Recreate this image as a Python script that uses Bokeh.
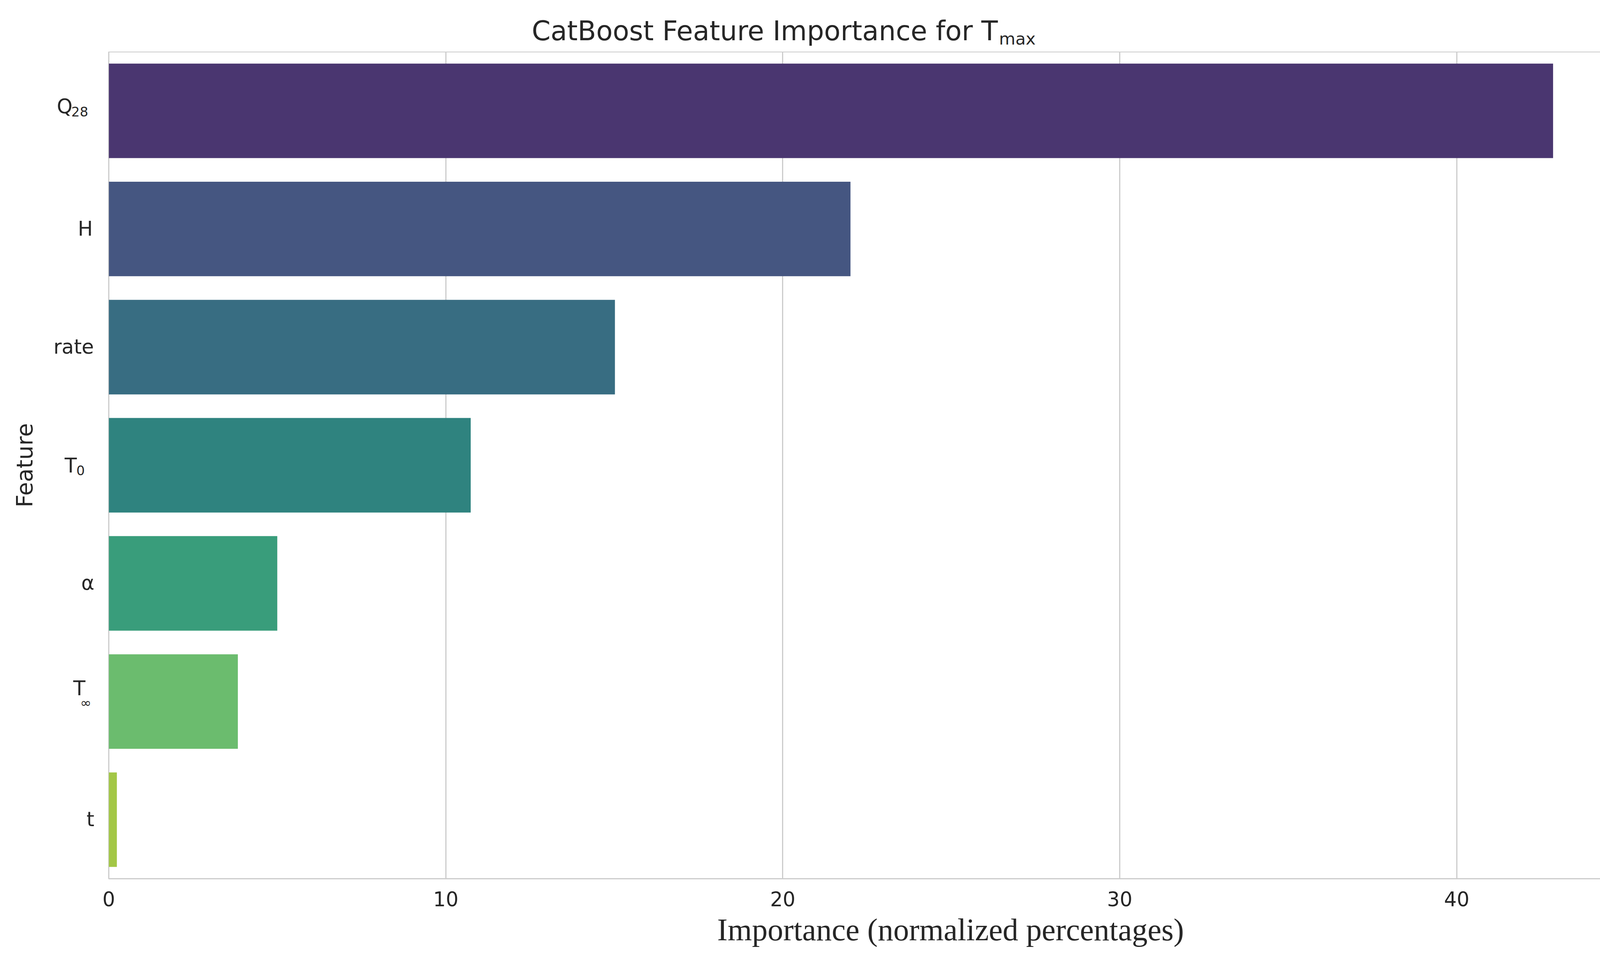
import math
from bokeh.plotting import figure
from bokeh.layouts import column, row
from bokeh.models import FactorRange, Range1d, FixedTicker, ColumnDataSource
from bokeh.core.properties import value
from bokeh.embed import file_html
from bokeh.resources import INLINE

# ---------------- data ----------------
features = ["Q28", "H", "rate", "T0", "α", "T∞", "t"]          # top to bottom
label_main = ["Q", "H", "rate", "T", "α", "T", "t"]
label_sub = ["28", "", "", "0", "", "∞", ""]
importance = [42.86, 22.01, 15.02, 10.74, 5.00, 3.83, 0.24]
bar_colors = ["#4a3670", "#455681", "#386d82", "#2f837f", "#399d7b", "#6bbc6e", "#a3c746"]
x_ticks = [0, 10, 20, 30, 40]

title_main = "CatBoost Feature Importance for T"
title_sub = "max"
x_label = "Importance (normalized percentages)"
y_label = "Feature"

# ---------------- style / layout (pixels) ----------------
TXT = "#262626"
GRID = "#cccccc"
W = 4200
H_TOTAL = 2440
TOP_H = 132          # band above the plot frame
LEFT_W = 278         # space left of the plot frame
P_LEFT = 30          # part of it owned by the main plot
FRAME_W = 3882
FRAME_H = 2116
RIGHT_B = 40
AXIS_B = 88          # x tick label band
BOTTOM_H = H_TOTAL - TOP_H - FRAME_H - AXIS_B   # x axis title band
BL = 0.38            # baseline correction (fraction of font size)

# tick-label pieces: anchor x relative to frame left edge, baseline shift (px, down)
main_align = ["left", "right", "right", "left", "right", "left", "right"]
main_dx = [-133, -41, -38, -113, -37, -91, -37]
main_down = [8, 18.5, 18.5, 20.5, 18.5, -14.6, 18.5]
sub_dx = [-96, 0, 0, -83, 0, -73, 0]
sub_down = [14.4, 0, 0, 26, 0, 15.5, 0]
MAIN_FS, SUB_FS = 51, 34


def blank(fig):
    fig.xaxis.visible = False
    fig.yaxis.visible = False
    fig.xgrid.grid_line_color = None
    fig.ygrid.grid_line_color = None
    fig.outline_line_color = None
    return fig


common = dict(output_backend="svg", toolbar_location=None, title=None,
              background_fill_color="white", border_fill_color="white")

y_range = FactorRange(factors=list(reversed(features)))

# ---- main plot ----
p = figure(width=P_LEFT + FRAME_W + RIGHT_B, height=FRAME_H + AXIS_B,
           y_range=y_range, x_range=Range1d(0, 45),
           min_border_left=P_LEFT, min_border_top=0,
           min_border_right=RIGHT_B, min_border_bottom=AXIS_B, **common)
p.outline_line_color = GRID
p.outline_line_width = 3

src = ColumnDataSource(dict(feature=features, importance=importance, color=bar_colors))
p.hbar(y="feature", left=0, right="importance", height=0.8, source=src,
       fill_color="color", line_color=None)

p.xaxis.ticker = FixedTicker(ticks=x_ticks)
p.xaxis.axis_line_color = None
p.xaxis.major_tick_line_color = None
p.xaxis.minor_tick_line_color = None
p.xaxis.major_label_text_font = "DejaVu Sans"
p.xaxis.major_label_text_font_size = "51px"
p.xaxis.major_label_text_color = TXT
p.xaxis.major_label_standoff = 26
p.xgrid.ticker = FixedTicker(ticks=x_ticks)
p.xgrid.grid_line_color = GRID
p.xgrid.grid_line_width = 3
p.ygrid.grid_line_color = None
p.yaxis.visible = False

# ---- left band: y tick labels and y axis title ----
LW = LEFT_W - P_LEFT
lf = blank(figure(width=LW, height=FRAME_H + AXIS_B, y_range=y_range,
                  x_range=Range1d(0, LW),
                  min_border_left=0, min_border_top=0, min_border_right=0,
                  min_border_bottom=AXIS_B, **common))
for align in ["left", "right"]:
    idx = [i for i in range(len(features)) if main_align[i] == align]
    s = ColumnDataSource(dict(
        feature=[features[i] for i in idx],
        x=[LEFT_W + main_dx[i] for i in idx],
        text=[label_main[i] for i in idx],
        dy=[main_down[i] - BL * MAIN_FS for i in idx],
    ))
    lf.text(x="x", y="feature", text="text", y_offset="dy", source=s,
            text_align=align, text_baseline="alphabetic",
            text_font=value("DejaVu Sans"), text_font_size=f"{MAIN_FS}px", text_color=TXT)

sidx = [i for i in range(len(features)) if label_sub[i]]
ssrc = ColumnDataSource(dict(
    feature=[features[i] for i in sidx],
    x=[LEFT_W + sub_dx[i] for i in sidx],
    text=[label_sub[i] for i in sidx],
    dy=[sub_down[i] - BL * SUB_FS for i in sidx],
))
lf.text(x="x", y="feature", text="text", y_offset="dy", source=ssrc,
        text_align="left", text_baseline="alphabetic",
        text_font=value("DejaVu Sans"), text_font_size=f"{SUB_FS}px", text_color=TXT)

lf.text(x=[84 - BL * 57], y=[len(features) / 2], text=[y_label], angle=math.pi / 2,
        text_align="center", text_baseline="alphabetic",
        text_font=value("DejaVu Sans"), text_font_size="57px", text_color=TXT)

# ---- top band: title ----
tf = blank(figure(width=W, height=TOP_H, x_range=Range1d(0, W), y_range=Range1d(TOP_H, 0),
                  min_border=0, **common))
tf.text(x=[2554], y=[105 - BL * 69], text=[title_main], text_align="right",
        text_baseline="alphabetic",
        text_font=value("DejaVu Sans"), text_font_size="69px", text_color=TXT)
tf.text(x=[2557], y=[115 - BL * 43], text=[title_sub], text_align="left",
        text_baseline="alphabetic",
        text_font=value("DejaVu Sans"), text_font_size="43px", text_color=TXT)

# ---- bottom band: x axis title (baseline at page y 2417) ----
xl_base = 2417 - 8 - (TOP_H + FRAME_H + AXIS_B)
bf = blank(figure(width=W, height=BOTTOM_H, x_range=Range1d(0, W), y_range=Range1d(BOTTOM_H, 0),
                  min_border=0, **common))
bf.text(x=[2433], y=[xl_base - BL * 80], text=[x_label], text_align="center",
        text_baseline="alphabetic",
        text_font=value("Liberation Serif"), text_font_size="80px", text_color=TXT)

layout = column(tf, row(lf, p), bf)
open("out.html", "w").write(file_html(layout, INLINE))
